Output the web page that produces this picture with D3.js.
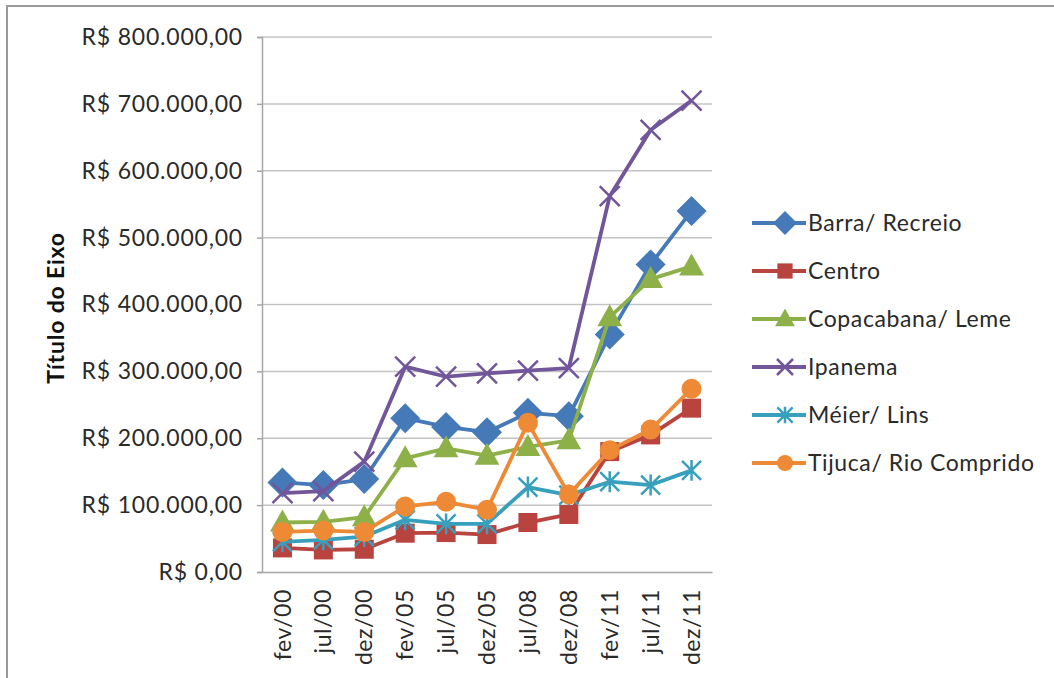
<!DOCTYPE html>
<html>
<head>
<meta charset="utf-8">
<script src="https://cdn.jsdelivr.net/npm/d3@7"></script>
<style>
  html, body { margin: 0; padding: 0; background: #fff; }
  svg { display: block; font-family: Lato, "Open Sans", sans-serif; }
</style>
</head>
<body>
<svg id="chart" width="1054" height="678"></svg>
<script>
// Periods on the category axis
const periods = ["fev/00", "jul/00", "dez/00", "fev/05", "jul/05", "dez/05", "jul/08", "dez/08", "fev/11", "jul/11", "dez/11"];

// Average property prices (R$) per neighbourhood
const barraRecreio   = [134000, 130000, 139000, 230000, 217000, 209000, 238000, 233000, 355000, 460000, 540000];
const centro         = [ 36000,  33000,  34000,  58000,  59000,  56000,  74000,  86000, 180000, 205000, 245000];
const copacabanaLeme = [ 74000,  75000,  82000, 170000, 185000, 174000, 187000, 197000, 381000, 438000, 457000];
const ipanema        = [118000, 121000, 165000, 307000, 292000, 297000, 301000, 305000, 562000, 661000, 705000];
const meierLins      = [ 45000,  48000,  53000,  78000,  72000,  72000, 127000, 115000, 135000, 130000, 152000];
const tijucaRio      = [ 60000,  62000,  60000,  98000, 105000,  93000, 223000, 116000, 182000, 213000, 274000];

const seriesNames = ["Barra/ Recreio", "Centro", "Copacabana/ Leme", "Ipanema", "Méier/ Lins", "Tijuca/ Rio Comprido"];
const yTickValues = [0, 100000, 200000, 300000, 400000, 500000, 600000, 700000, 800000];
const axisTitle = "Título do Eixo";

const series = [
  { name: seriesNames[0], values: barraRecreio,   color: "#4579B8", marker: "diamond" },
  { name: seriesNames[1], values: centro,         color: "#B8433F", marker: "square" },
  { name: seriesNames[2], values: copacabanaLeme, color: "#8DB048", marker: "triangle" },
  { name: seriesNames[3], values: ipanema,        color: "#72569A", marker: "x" },
  { name: seriesNames[4], values: meierLins,      color: "#38A0BC", marker: "star" },
  { name: seriesNames[5], values: tijucaRio,      color: "#EE8A35", marker: "circle" }
];

const svg = d3.select("#chart");

// Outer chart frame
svg.append("path")
  .attr("d", "M7,1060 L7,6 L1060,6")
  .attr("fill", "none")
  .attr("stroke", "#9a9a9a")
  .attr("stroke-width", 2);

const plot = { left: 262, right: 712, top: 37, bottom: 572 };

const x = d3.scaleBand().domain(periods).range([plot.left, plot.right]);
const y = d3.scaleLinear().domain([0, 800000]).range([plot.bottom, plot.top]);

const fmtBRL = v => "R$ " + d3.format(",.2f")(v).replace(/,/g, "#").replace(/\./g, ",").replace(/#/g, ".");

// Horizontal gridlines
svg.append("g")
  .selectAll("line")
  .data(yTickValues.filter(v => v > 0))
  .join("line")
  .attr("x1", plot.left).attr("x2", plot.right)
  .attr("y1", d => y(d)).attr("y2", d => y(d))
  .attr("stroke", "#c4c4c4")
  .attr("stroke-width", 1.5);

// Y axis
const yAxis = svg.append("g")
  .attr("transform", `translate(${plot.left},0)`)
  .call(d3.axisLeft(y).tickValues(yTickValues).tickFormat(fmtBRL).tickSize(5).tickPadding(14));
yAxis.select(".domain").attr("stroke", "#a6a6a6").attr("stroke-width", 1.5);
yAxis.selectAll(".tick line").attr("stroke", "#a6a6a6").attr("stroke-width", 1.5);
yAxis.selectAll(".tick text")
  .attr("font-family", "Lato, sans-serif")
  .attr("font-size", 23)
  .attr("letter-spacing", 0.8)
  .attr("fill", "#2a2a2a");

// X axis
const xAxis = svg.append("g")
  .attr("transform", `translate(0,${plot.bottom})`)
  .call(d3.axisBottom(x).tickSize(0).tickPadding(0));
xAxis.select(".domain").attr("stroke", "#a6a6a6").attr("stroke-width", 1.5);
xAxis.selectAll(".tick text")
  .attr("font-family", "Lato, sans-serif")
  .attr("font-size", 23)
  .attr("letter-spacing", 0.6)
  .attr("fill", "#2a2a2a")
  .attr("transform", "rotate(-90)")
  .attr("text-anchor", "end")
  .attr("dy", "0.35em")
  .attr("x", -17)
  .attr("y", 0);

// Axis title
svg.append("text")
  .attr("transform", "translate(64,308) rotate(-90)")
  .attr("text-anchor", "middle")
  .attr("font-family", "Lato, sans-serif")
  .attr("font-weight", "bold")
  .attr("font-size", 23)
  .attr("letter-spacing", 0.8)
  .attr("fill", "#111")
  .text(axisTitle);

// Marker drawing
function drawMarker(g, type, color, s) {
  if (type === "diamond") {
    g.append("path")
      .attr("d", `M0,${-s * 0.75} L${s * 0.75},0 L0,${s * 0.75} L${-s * 0.75},0 Z`)
      .attr("fill", color);
  } else if (type === "square") {
    g.append("rect").attr("x", -s / 2).attr("y", -s / 2).attr("width", s).attr("height", s).attr("fill", color);
  } else if (type === "triangle") {
    g.append("path").attr("d", `M0,${-s * 0.65} L${s * 0.62},${s * 0.45} L${-s * 0.62},${s * 0.45} Z`).attr("fill", color);
  } else if (type === "circle") {
    g.append("circle").attr("r", s / 2).attr("fill", color);
  } else if (type === "x") {
    const r = s / 2;
    g.append("path").attr("d", `M${-r},${-r} L${r},${r} M${-r},${r} L${r},${-r}`)
      .attr("stroke", color).attr("stroke-width", 2.5).attr("fill", "none");
  } else if (type === "star") {
    const r = s / 2;
    g.append("path").attr("d", `M${-r},${-r} L${r},${r} M${-r},${r} L${r},${-r} M0,${-r * 1.1} L0,${r * 1.1}`)
      .attr("stroke", color).attr("stroke-width", 2.5).attr("fill", "none");
  }
}

const line = d3.line()
  .x((d, i) => x(periods[i]) + x.bandwidth() / 2)
  .y(d => y(d));

const markerSize = { diamond: 20, square: 19, triangle: 20, circle: 20, x: 20, star: 19 };

series.forEach(s => {
  const g = svg.append("g");
  g.append("path")
    .datum(s.values)
    .attr("d", line)
    .attr("fill", "none")
    .attr("stroke", s.color)
    .attr("stroke-width", 3.8)
    .attr("stroke-linejoin", "round");
  s.values.forEach((v, i) => {
    const m = g.append("g")
      .attr("transform", `translate(${x(periods[i]) + x.bandwidth() / 2},${y(v)})`);
    drawMarker(m, s.marker, s.color, markerSize[s.marker]);
  });
});

// Legend
const legend = svg.append("g").attr("transform", "translate(752,223)");
series.forEach((s, i) => {
  const row = legend.append("g").attr("transform", `translate(0,${i * 48})`);
  row.append("line").attr("x1", 0).attr("x2", 54).attr("y1", 0).attr("y2", 0)
    .attr("stroke", s.color).attr("stroke-width", 3.8);
  const m = row.append("g").attr("transform", "translate(33,0)");
  drawMarker(m, s.marker, s.color, markerSize[s.marker] * 0.8);
  row.append("text")
    .attr("x", 56).attr("y", 0).attr("dy", "0.35em")
    .attr("font-family", "Lato, sans-serif")
    .attr("font-size", 23)
    .attr("letter-spacing", 0.6)
    .attr("fill", "#2a2a2a")
    .text(s.name);
});
</script>
</body>
</html>
